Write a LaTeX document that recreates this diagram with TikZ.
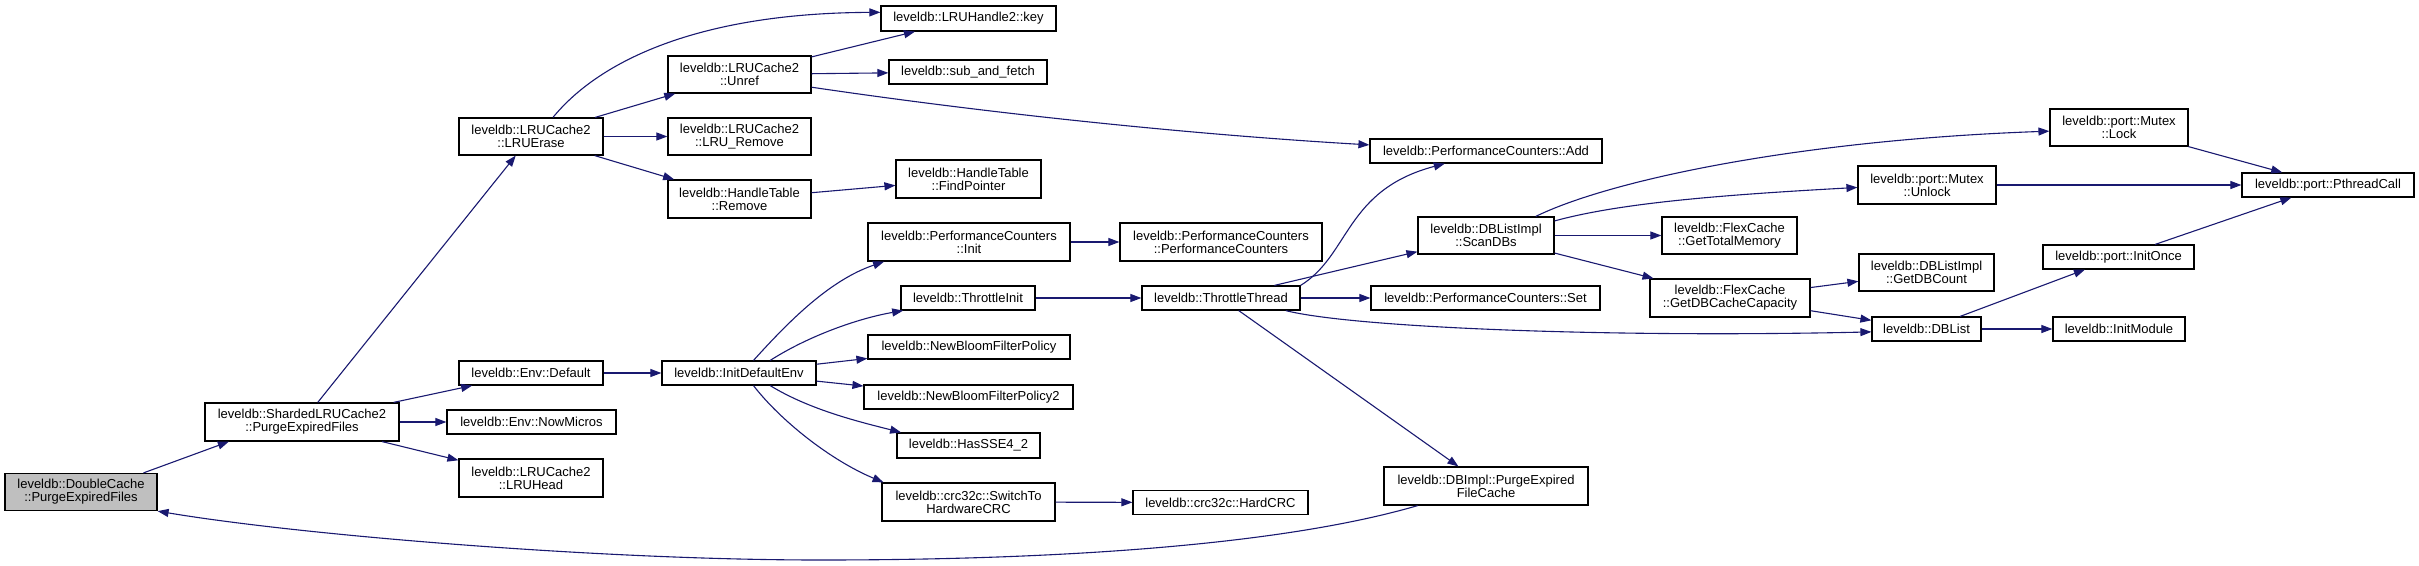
\documentclass[tikz,border=0pt]{standalone}
\usepackage{fontspec}
\setmainfont{Liberation Sans}
\usetikzlibrary{arrows.meta}
\definecolor{edgeblue}{RGB}{25,25,112}
\begin{document}
\begin{tikzpicture}[x=1pt,y=-1pt,
  box/.style={draw=black, line width=1.2pt, fill=white, inner sep=0pt, align=center,
    font=\fontsize{13}{13}\selectfont},
  edge/.style={draw=edgeblue, line width=1.1pt, -{Triangle[length=11pt,width=8pt]}}]
\useasboundingbox (0,0) rectangle (2419,565);

% rank 0-1
\node[box, fill=gray!50, minimum width=152pt, minimum height=37pt] (dc) at (81,492) {leveldb::DoubleCache\\::PurgeExpiredFiles};
\node[box, minimum width=194pt, minimum height=38pt] (sh) at (302,422) {leveldb::ShardedLRUCache2\\::PurgeExpiredFiles};
% rank 2
\node[box, minimum width=144pt, minimum height=37pt] (lruerase) at (531,136.5) {leveldb::LRUCache2\\::LRUErase};
\node[box, minimum width=144pt, minimum height=24pt] (envdef) at (531,373) {leveldb::Env::Default};
\node[box, minimum width=169pt, minimum height=24pt] (nowmicros) at (531.5,422) {leveldb::Env::NowMicros};
\node[box, minimum width=144pt, minimum height=38pt] (lruhead) at (531,478) {leveldb::LRUCache2\\::LRUHead};
% rank 3
\node[box, minimum width=143pt, minimum height=37pt] (unref) at (739.5,74.5) {leveldb::LRUCache2\\::Unref};
\node[box, minimum width=143pt, minimum height=37pt] (lruremove) at (739.5,136.5) {leveldb::LRUCache2\\::LRU\_Remove};
\node[box, minimum width=143pt, minimum height=38pt] (htremove) at (739.5,199) {leveldb::HandleTable\\::Remove};
\node[box, minimum width=154pt, minimum height=24pt] (initdef) at (739,373) {leveldb::InitDefaultEnv};
% rank 4
\node[box, minimum width=175pt, minimum height=25pt] (key) at (968.5,18.5) {leveldb::LRUHandle2::key};
\node[box, minimum width=158pt, minimum height=24pt] (subfetch) at (968,72) {leveldb::sub\_and\_fetch};
\node[box, minimum width=145pt, minimum height=38pt] (findptr) at (968.5,179) {leveldb::HandleTable\\::FindPointer};
\node[box, minimum width=202pt, minimum height=38pt] (pcinit) at (969,242) {leveldb::PerformanceCounters\\::Init};
\node[box, minimum width=134pt, minimum height=24pt] (thinit) at (968,298) {leveldb::ThrottleInit};
\node[box, minimum width=202pt, minimum height=24pt] (nbfp) at (969,347) {leveldb::NewBloomFilterPolicy};
\node[box, minimum width=209pt, minimum height=24pt] (nbfp2) at (968.5,397) {leveldb::NewBloomFilterPolicy2};
\node[box, minimum width=143pt, minimum height=25pt] (sse) at (968.5,445.5) {leveldb::HasSSE4\_2};
\node[box, minimum width=173pt, minimum height=38pt] (swcrc) at (968.5,502) {leveldb::crc32c::SwitchTo\\HardwareCRC};
% rank 5
\node[box, minimum width=202pt, minimum height=38pt] (pcpc) at (1221,242) {leveldb::PerformanceCounters\\::PerformanceCounters};
\node[box, minimum width=158pt, minimum height=24pt] (ththread) at (1221,298) {leveldb::ThrottleThread};
\node[box, minimum width=175pt, minimum height=24pt] (hardcrc) at (1220.5,502.5) {leveldb::crc32c::HardCRC};
% rank 6
\node[box, minimum width=232pt, minimum height=24pt] (pcadd) at (1486,151) {leveldb::PerformanceCounters::Add};
\node[box, minimum width=136pt, minimum height=37pt] (scandbs) at (1486,235.5) {leveldb::DBListImpl\\::ScanDBs};
\node[box, minimum width=229pt, minimum height=24pt] (pcset) at (1485.5,298) {leveldb::PerformanceCounters::Set};
\node[box, minimum width=204pt, minimum height=38pt] (dbimpl) at (1486,486) {leveldb::DBImpl::PurgeExpired\\FileCache};
% rank 7
\node[box, minimum width=135pt, minimum height=37pt] (totmem) at (1729.5,235.5) {leveldb::FlexCache\\::GetTotalMemory};
\node[box, minimum width=160pt, minimum height=38pt] (dbcap) at (1730,298) {leveldb::FlexCache\\::GetDBCacheCapacity};
% rank 8
\node[box, minimum width=138pt, minimum height=38pt] (unlock) at (1927,185) {leveldb::port::Mutex\\::Unlock};
\node[box, minimum width=135pt, minimum height=37pt] (dbcount) at (1926.5,272.5) {leveldb::DBListImpl\\::GetDBCount};
\node[box, minimum width=109pt, minimum height=24pt] (dblist) at (1926.5,329) {leveldb::DBList};
% rank 9
\node[box, minimum width=138pt, minimum height=37pt] (lock) at (2119,127.5) {leveldb::port::Mutex\\::Lock};
\node[box, minimum width=151pt, minimum height=24pt] (initonce) at (2118.5,257) {leveldb::port::InitOnce};
\node[box, minimum width=132pt, minimum height=24pt] (initmod) at (2119,329) {leveldb::InitModule};
% rank 10
\node[box, minimum width=172pt, minimum height=24pt] (pthread) at (2328,185) {leveldb::port::PthreadCall};

% edges
\draw[edge] (dc.17) -- (sh.195);
\draw[edge] (dbimpl.196) .. controls (1300,540) and (1100,560) .. (820,560)
  .. controls (600,560) and (300,535) .. (dc.south east);
\draw[edge] (sh) -- (lruerase);
\draw[edge] (sh) -- (envdef);
\draw[edge] (sh) -- (nowmicros);
\draw[edge] (sh) -- (lruhead);
\draw[edge] (lruerase.41) .. controls (600,60) and (700,13) .. (key.176);
\draw[edge] (lruerase) -- (unref);
\draw[edge] (lruerase) -- (lruremove);
\draw[edge] (lruerase) -- (htremove);
\draw[edge] (unref) -- (key);
\draw[edge] (unref) -- (subfetch);
\draw[edge] (unref.-10) .. controls (1000,115) and (1200,135) .. (pcadd.177);
\draw[edge] (htremove) -- (findptr);
\draw[edge] (envdef) -- (initdef);
\draw[edge] (initdef.41) .. controls (790,320) and (830,280) .. (pcinit.193);
\draw[edge] (initdef.22) .. controls (810,335) and (860,318) .. (thinit.191);
\draw[edge] (initdef) -- (nbfp);
\draw[edge] (initdef) -- (nbfp2);
\draw[edge] (initdef.-22) .. controls (810,410) and (860,422) .. (sse.169);
\draw[edge] (initdef.-41) .. controls (780,420) and (830,460) .. (swcrc.167);
\draw[edge] (pcinit) -- (pcpc);
\draw[edge] (thinit) -- (ththread);
\draw[edge] (swcrc) -- (hardcrc);
\draw[edge] (ththread.north east) .. controls (1350,255) and (1345,190) .. (pcadd.197);
\draw[edge] (ththread) -- (scandbs);
\draw[edge] (ththread) -- (pcset);
\draw[edge] (ththread.-11) .. controls (1350,327) and (1600,338) .. (dblist.183);
\draw[edge] (ththread) -- (dbimpl);
\draw[edge] (scandbs.21) .. controls (1610,180) and (1800,140) .. (lock.183);
\draw[edge] (scandbs.12) .. controls (1620,203) and (1720,195) .. (unlock.182);
\draw[edge] (scandbs) -- (totmem);
\draw[edge] (scandbs) -- (dbcap);
\draw[edge] (dbcap) -- (dbcount);
\draw[edge] (dbcap) -- (dblist);
\draw[edge] (dblist) -- (initonce);
\draw[edge] (dblist) -- (initmod);
\draw[edge] (lock) -- (pthread);
\draw[edge] (unlock) -- (pthread);
\draw[edge] (initonce) -- (pthread);
\end{tikzpicture}
\end{document}
